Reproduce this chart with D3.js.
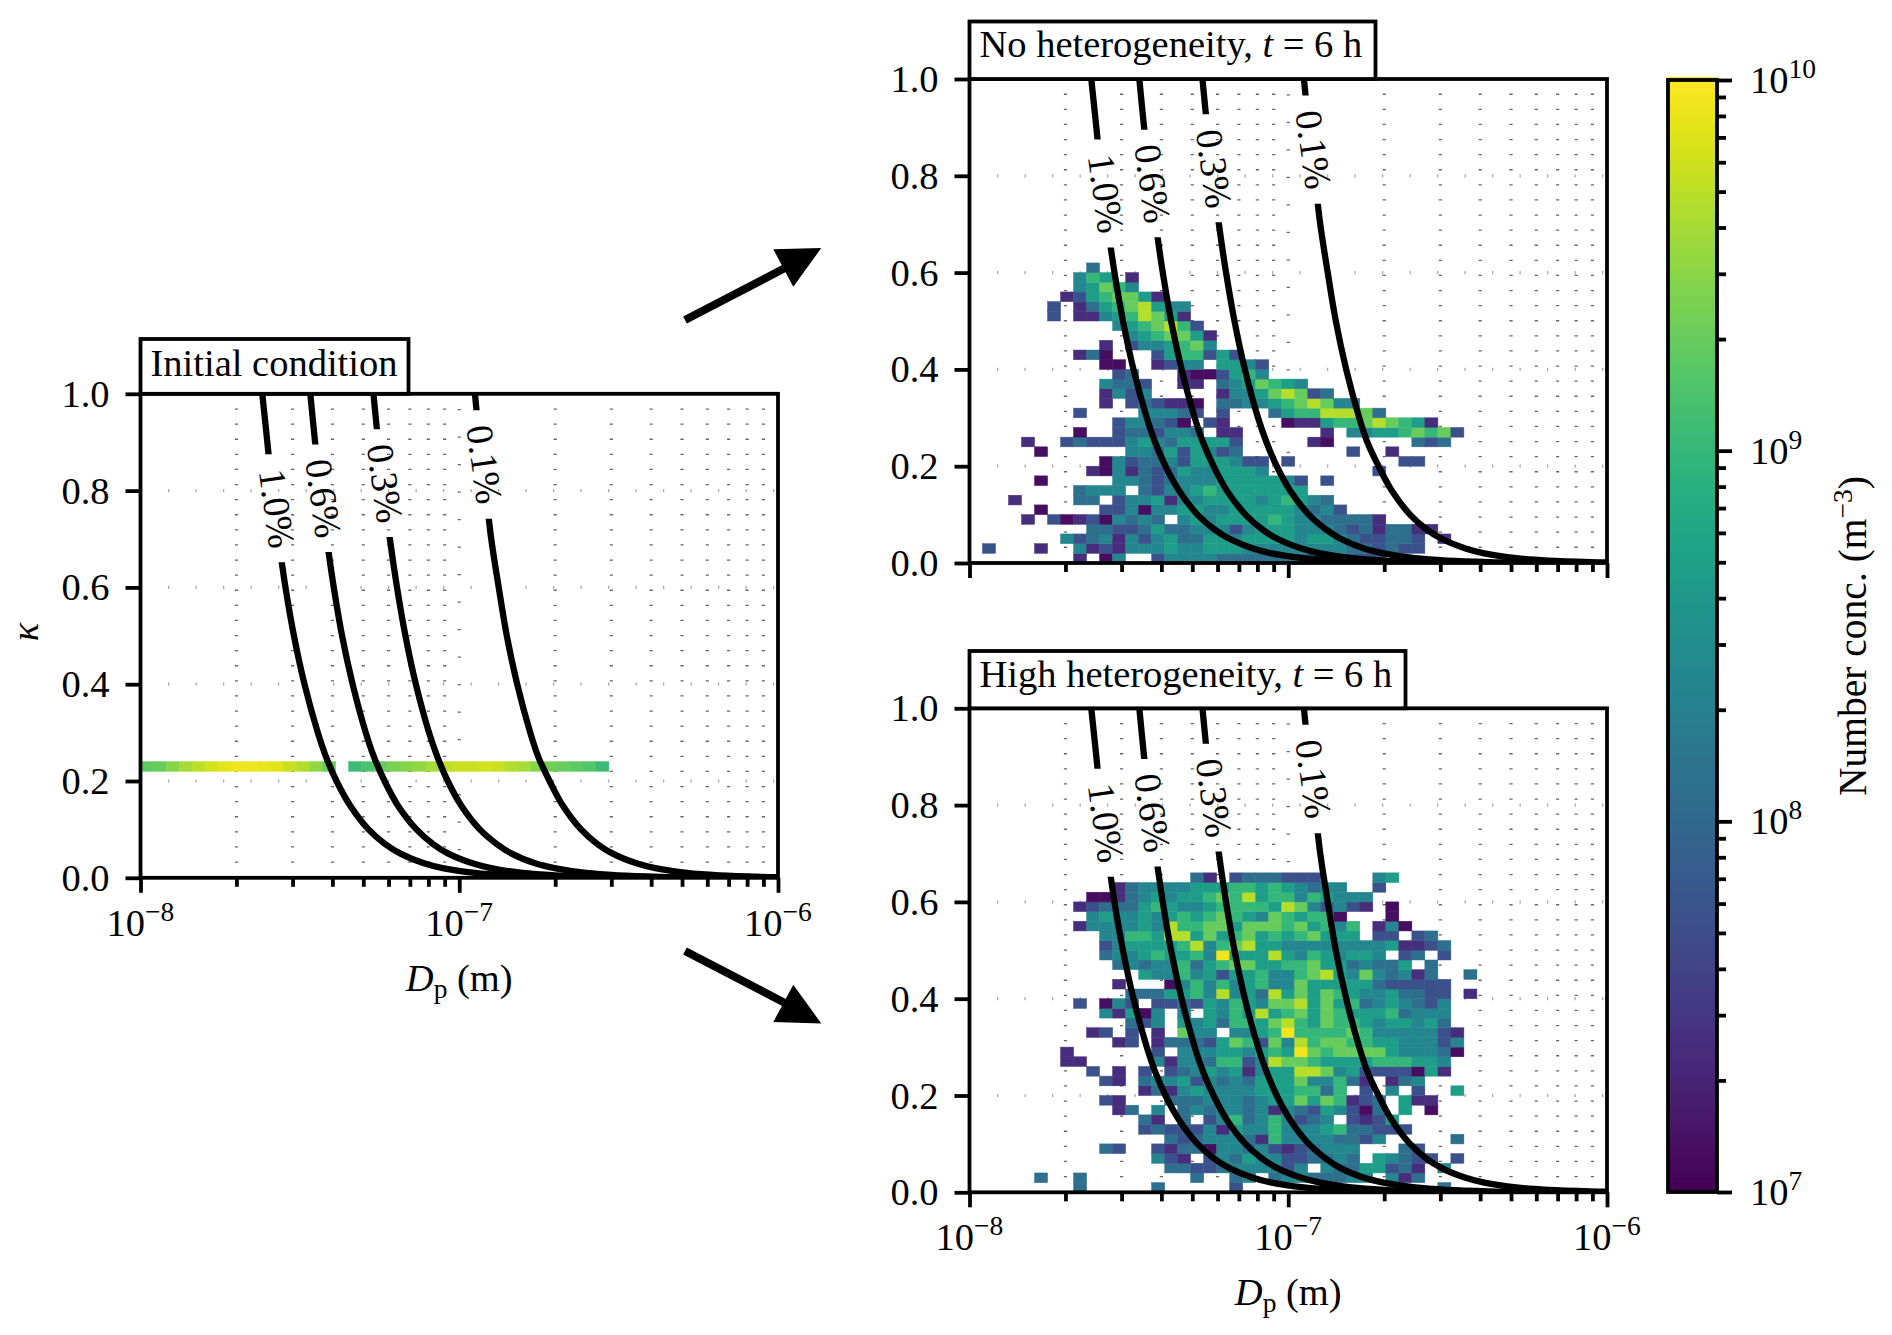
<!DOCTYPE html>
<html><head><meta charset="utf-8">
<style>html,body{margin:0;padding:0;background:#fff}svg{display:block}text{font-family:"Liberation Serif",serif;fill:#000}</style>
<script src="https://cdn.jsdelivr.net/npm/d3@7"></script></head><body>
<script>
// ---- data ----
const xTicksMajor=[1e-8,1e-7,1e-6];
const xTicksMinor=[2e-8,3e-8,4e-8,5e-8,6e-8,7e-8,8e-8,9e-8,2e-7,3e-7,4e-7,5e-7,6e-7,7e-7,8e-7,9e-7];
const yTicks=[0,0.2,0.4,0.6,0.8,1.0];
const cbarMajor=[1e7,1e8,1e9,1e10];
const cbarMinor=[2e7,3e7,4e7,5e7,6e7,7e7,8e7,9e7,2e8,3e8,4e8,5e8,6e8,7e8,8e8,9e8,2e9,3e9,4e9,5e9,6e9,7e9,8e9,9e9];
const xBinCount=49, yBinCount=50;
// colour levels used in the row strings below (number concentration, m^-3)
const levelValues={1:1.25e7,2:2.5e7,3:5.6e7,4:1.2e8,5:2.4e8,6:4.6e8,7:1e9,8:2e9,9:4.6e9,A:8.9e9};
// [first column, level per column] from the bottom row upward
const initialRow=11;
const initialColumns=[0,1,2,3,4,5,6,7,8,9,10,11,12,13,14,16,17,18,19,20,21,22,23,24,25,26,27,28,29,30,31,32,33,34,35];
const initialLog=[9.25,9.3,9.45,9.6,9.7,9.8,9.87,9.92,9.92,9.9,9.85,9.75,9.65,9.5,9.3,9.05,9.15,9.3,9.4,9.45,9.5,9.6,9.7,9.75,9.75,9.8,9.75,9.65,9.6,9.45,9.35,9.3,9.25,9.2,9.05];
const noHetRows=[
[8,"2.15..355554444444333333"],
[1,"3...2..523255565566655555555443433"],
[7,"5345253564466566665665433443.2"],
[9,"443346445553566655543424422"],
[4,"2.312315454.5656666765544442"],
[5,"1....3351556655666665453"],
[3,"2....44.35562556666567654"],
[8,"4555.4355676666666"],
[5,"1.....554345556666653.3"],
[9,"21524346556665........3"],
[10,"1534453666533.3........33"],
[5,"1......554636534........3..2"],
[4,"2..34333565466663.....21......434"],
[8,"1..3443554.22......2.556678783"],
[11,"355431.32....122677898762"],
[8,"3....55543.3...467799984"],
[10,"2.343221.44556789855"],
[10,"2535.....255689834"],
[10,"5443..22.4568765"],
[11,"34...2113675"],
[10,"11..2355.6653"],
[8,"241...3677363"],
[10,"2.3556785"],
[12,"5678862"],
[11,"5678973"],
[6,"3.225679862"],
[6,"3.246789655"],
[7,"23678862"],
[8,"56875"],
[8,"576.2"],
[9,"4"]];
const highHetRows=[
[8,"4.....4.....3...............4"],
[5,"4..4........4..45.45544455.524"],
[15,"44334555535.54466342.5"],
[14,"532.354655334454.65433.3"],
[10,"43..3244155453234555...43"],
[15,"43455542755554435.....4"],
[13,"343335265575556744333"],
[13,"42.4.3574575345.3236"],
[11,"24.5.4545545254365314.6.1"],
[10,"32...44455545668687234.622"],
[13,"2425655556667747.3.5.3..6"],
[10,"32.455635454666855742.245"],
[9,"3.2.3.3456562566998563333162"],
[7,"22.....52554773598876666777665"],
[7,"2......3.555665676A878888655541"],
[11,"23.244436873859788776655535"],
[9,"23.3.2.855.5567A7777875555532"],
[12,"435.656477689768776566564"],
[10,"52615.5.6576967868766674555"],
[8,"3.153.33436576588968674565435"],
[12,"4446675956496868765564433.2"],
[11,"2...1575756755866666433333"],
[13,"65575636675578965854524..4"],
[11,"45455746788667786645446.4"],
[10,"455676675A666965765665.34.3"],
[10,"356666795789665555555562234"],
[10,"55776996867867678666.33.34"],
[8,"2555565977886888786757.251"],
[9,"56556567678765876771...1"],
[8,"23444676556777769853532.1"],
[9,"1124565667879677576555"],
[11,"245555666776765455..3"],
[17,"42.3444333....56"]];
// critical-supersaturation curves (diameter in units of 1e-8 m)
const curveKappa=[1,.9,.8,.7,.6,.5,.4,.3,.25,.2,.15,.1,.07,.05,.03,.02,.01,.005,.002,.001];
const curveD10=[2.41,2.50,2.59,2.71,2.85,3.03,3.27,3.60,3.82,4.12,4.54,5.19,5.85,6.54,7.75,8.87,11.2,14.1,19.2,24.1];
const curveD06=[3.41,3.53,3.67,3.84,4.04,4.29,4.63,5.09,5.40,5.83,6.41,7.34,8.27,9.24,11.0,12.6,15.8,20.0,27.0,34.1];
const curveD03=[5.38,5.57,5.80,6.06,6.38,6.78,7.31,8.04,8.54,9.20,10.13,11.6,13.1,14.6,17.3,19.9,25.0,31.5,42.7,53.8];
const curveD01=[11.2,11.6,12.1,12.6,13.3,14.1,15.2,16.7,17.7,19.2,21.1,24.1,27.1,30.3,36.0,41.2,51.9,65.4,88.8,112];
const curveNames=["1.0%","0.6%","0.3%","0.1%"];
const curveSets=[curveD10,curveD06,curveD03,curveD01];
const gapKappaHigh=[.875,.895,.927,.966];
const gapKappaLow=[.652,.673,.704,.742];
const labelD=[2.68e-8,3.75e-8,5.85e-8,12.0e-8];
const labelKappa=[.763,.784,.815,.854];

// ---- layout ----
const W=1892,H=1335,FS=38.5,SUP=27.5,SW=3.8;
const svg=d3.select("body").append("svg").attr("width",W).attr("height",H);
const color=d3.scaleSequentialLog([1e7,1e10],d3.interpolateViridis);
let clipId=0;

function sup(sel,base,exp){
  sel.append("tspan").text(base);
  sel.append("tspan").attr("dy",-15).attr("font-size",SUP).text(exp);
}
function drawD(g,x,y){
  const t=g.append("text").attr("x",x).attr("y",y).attr("text-anchor","middle").attr("font-size",FS);
  t.append("tspan").attr("font-style","italic").text("D");
  t.append("tspan").attr("dy",7).attr("font-size",SUP).text("p");
  t.append("tspan").attr("dy",-7).text(" (m)");
}
function panel(o){
  const g=svg.append("g");
  const x=d3.scaleLog().domain([1e-8,1e-6]).range([o.l,o.l+637.5]);
  const y=d3.scaleLinear().domain([0,1]).range([o.t+484,o.t]);
  const binX=i=>x(1e-8*Math.pow(10,2*i/xBinCount));
  const binY=j=>y(j/yBinCount);
  // grid
  const gr=g.append("g");
  gr.selectAll(".minorv").data(xTicksMinor).join("line")
    .attr("x1",d=>x(d)).attr("x2",d=>x(d)).attr("y1",y(0)).attr("y2",y(1))
    .attr("stroke","#666").attr("stroke-width",3.2).attr("stroke-dasharray","1.3 13.8");
  gr.selectAll(".majorv").data(xTicksMajor.slice(1,2)).join("line")
    .attr("x1",d=>x(d)).attr("x2",d=>x(d)).attr("y1",y(0)).attr("y2",y(1))
    .attr("stroke","#666").attr("stroke-width",3.2).attr("stroke-dasharray","1.3 26.2");
  gr.selectAll(".h").data(yTicks.slice(1,5)).join("line")
    .attr("x1",x(1e-8)).attr("x2",x(1e-6)).attr("y1",d=>y(d)).attr("y2",d=>y(d))
    .attr("stroke","#aaa").attr("stroke-width",3.2).attr("stroke-dasharray","1.3 26.2");
  // cells
  g.append("g").selectAll("rect").data(o.cells).join("rect")
    .attr("x",d=>binX(d.i)).attr("width",d=>binX(d.i+1)-binX(d.i))
    .attr("y",d=>binY(d.j+1)).attr("height",d=>binY(d.j)-binY(d.j+1))
    .attr("fill",d=>color(d.v)).attr("stroke",d=>color(d.v)).attr("stroke-width",0.5);
  // curves with gaps for the labels
  const line=d3.line().x(d=>x(d[0])).y(d=>y(d[1])).curve(d3.curveCatmullRom);
  curveSets.forEach((set,k)=>{
    const id="c"+(clipId++);
    const cp=svg.append("clipPath").attr("id",id);
    cp.append("rect").attr("x",o.l).attr("width",637.5).attr("y",y(1)).attr("height",y(gapKappaHigh[k])-y(1));
    cp.append("rect").attr("x",o.l).attr("width",637.5).attr("y",y(gapKappaLow[k])).attr("height",y(0)-y(gapKappaLow[k]));
    g.append("path").datum(set.map((d,i)=>[d*1e-8,curveKappa[i]]))
      .attr("d",line).attr("fill","none").attr("stroke","#000").attr("stroke-width",6.3)
      .attr("clip-path","url(#"+id+")");
    g.append("text").attr("text-anchor","middle").attr("font-size",38)
      .attr("transform","translate("+x(labelD[k])+","+y(labelKappa[k])+") rotate(82)")
      .attr("dy","0.34em").text(curveNames[k]);
  });
  // axes
  const ax=g.append("g");
  const bot=ax.append("g").attr("transform","translate(0,"+y(0)+")");
  bot.call(d3.axisBottom(x).tickValues(xTicksMajor).tickSize(15).tickSizeOuter(0).tickFormat(""));
  const botMinor=ax.append("g").attr("transform","translate(0,"+y(0)+")");
  botMinor.call(d3.axisBottom(x).tickValues(xTicksMinor).tickSize(9).tickSizeOuter(0).tickFormat(""));
  const left=ax.append("g").attr("transform","translate("+x(1e-8)+",0)");
  left.call(d3.axisLeft(y).tickValues(yTicks).tickSize(15).tickSizeOuter(0).tickFormat(""));
  ax.selectAll("line").attr("stroke","#000").attr("stroke-width",SW);
  ax.selectAll(".domain").attr("stroke","none");
  ax.append("rect").attr("x",x(1e-8)).attr("y",y(1)).attr("width",637.5).attr("height",484)
    .attr("fill","none").attr("stroke","#000").attr("stroke-width",SW);
  // tick labels
  g.selectAll(".yl").data(yTicks).join("text").attr("x",x(1e-8)-31).attr("y",d=>y(d)+13)
    .attr("text-anchor","end").attr("font-size",FS).text(d=>d.toFixed(1));
  if(o.xlabels){
    const exps=["\u22128","\u22127","\u22126"];
    xTicksMajor.forEach((d,i)=>{
      const t=g.append("text").attr("x",x(d)).attr("y",y(0)+58).attr("text-anchor","middle").attr("font-size",FS);
      sup(t,"10",exps[i]);
    });
    drawD(g,(x(1e-8)+x(1e-6))/2,y(0)+113);
  }
  // title box
  g.append("rect").attr("x",o.l).attr("y",o.boxTop).attr("width",o.boxW).attr("height",o.t-o.boxTop)
    .attr("fill","#fff").attr("stroke","#000").attr("stroke-width",SW);
  const tt=g.append("text").attr("x",o.l+10).attr("y",o.boxBase).attr("font-size",FS);
  o.title.forEach(p=>{const s=tt.append("tspan").text(p[0]); if(p[1]) s.attr("font-style","italic");});
}
function rowsToCells(rows){
  const out=[];
  rows.forEach((r,j)=>{Array.from(r[1]).forEach((c,k)=>{ if(c!==".") out.push({i:r[0]+k,j:j,v:levelValues[c]}); });});
  return out;
}
const initialCells=initialColumns.map((c,k)=>({i:c,j:initialRow,v:Math.pow(10,initialLog[k])}));

panel({l:140.5,t:393.8,cells:initialCells,xlabels:true,boxTop:339,boxW:268,boxBase:375.5,title:[["Initial condition"]]});
panel({l:969.5,t:79,cells:rowsToCells(noHetRows),xlabels:false,boxTop:21.5,boxW:406,boxBase:57,title:[["No heterogeneity, "],["t",1],[" = 6 h"]]});
panel({l:969.5,t:708.3,cells:rowsToCells(highHetRows),xlabels:true,boxTop:651,boxW:436,boxBase:687,title:[["High heterogeneity, "],["t",1],[" = 6 h"]]});

// kappa label
svg.append("text").attr("font-size",FS).attr("font-style","italic").attr("text-anchor","middle")
  .attr("transform","translate(38,632) rotate(-90)").text("\u03BA");

// arrows
const arrow=(tail,neck,a,b,c)=>{
  svg.append("line").attr("x1",tail[0]).attr("y1",tail[1]).attr("x2",neck[0]).attr("y2",neck[1]).attr("stroke","#000").attr("stroke-width",8);
  svg.append("polygon").attr("points",[a,b,c].map(p=>p.join(",")).join(" ")).attr("fill","#000");
};
arrow([685,320],[785,268],[821.3,248],[773.3,249.3],[793.3,286.7]);
arrow([685,951],[785,1003],[821.3,1023.5],[773.3,1022],[793.3,984.8]);

// colour bar
const cb=svg.append("g");
const cy=d3.scaleLog().domain([1e7,1e10]).range([1192,80]);
const stripes=d3.range(0,371).map(i=>Math.pow(10,7+i/370*3));
cb.selectAll("rect.s").data(stripes).join("rect")
  .attr("x",1668).attr("width",49).attr("y",d=>cy(d)-3.5).attr("height",3.6)
  .attr("fill",d=>color(d)).attr("shape-rendering","crispEdges");
const cbAxis=cb.append("g").attr("transform","translate(1717,0)");
cbAxis.call(d3.axisRight(cy).tickValues(cbarMajor).tickSize(15).tickSizeOuter(0).tickFormat(""));
const cbMinor=cb.append("g").attr("transform","translate(1717,0)");
cbMinor.call(d3.axisRight(cy).tickValues(cbarMinor).tickSize(9).tickSizeOuter(0).tickFormat(""));
cb.selectAll("g line").attr("stroke","#000").attr("stroke-width",SW);
cb.selectAll(".domain").attr("stroke","none");
cb.append("rect").attr("x",1668).attr("y",80).attr("width",49).attr("height",1112).attr("fill","none").attr("stroke","#000").attr("stroke-width",SW);
["7","8","9","10"].forEach((e,i)=>{
  const t=cb.append("text").attr("x",1750).attr("y",cy(cbarMajor[i])+13).attr("font-size",FS);
  sup(t,"10",e);
});
const cl=svg.append("text").attr("font-size",39.5).attr("text-anchor","middle")
  .attr("transform","translate(1866,636) rotate(-90)");
cl.append("tspan").text("Number conc. (m");
cl.append("tspan").attr("dy",-14).attr("font-size",SUP).text("\u22123");
cl.append("tspan").attr("dy",14).text(")");
</script></body></html>
